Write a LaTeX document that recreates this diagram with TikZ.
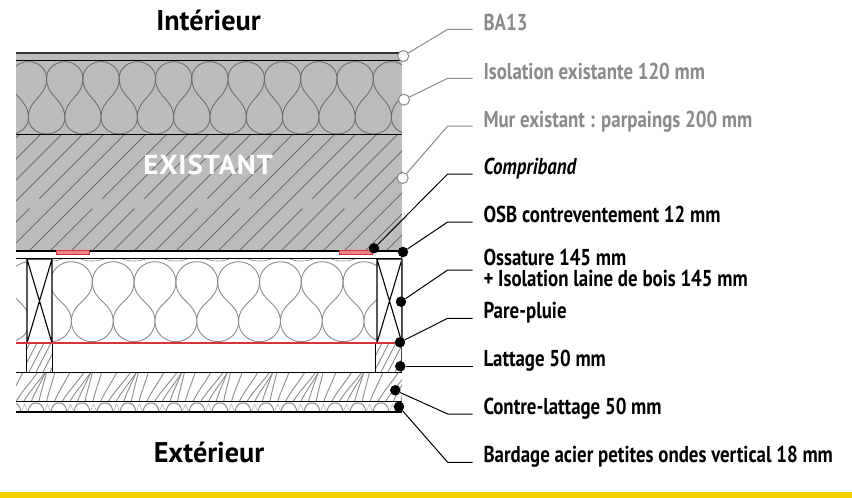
\documentclass[tikz,border=0pt]{standalone}
\usepackage{fontspec}
\setmainfont[FakeStretch=0.82]{PT Sans}
\newfontfamily\titlefont[FakeStretch=0.99]{PT Sans}
\newfontfamily\capsfont[FakeStretch=1.05,LetterSpace=3]{PT Sans}
\usepackage{tikz}
\usetikzlibrary{calc}
\usetikzlibrary{positioning}
\definecolor{wallgrey}{HTML}{BDBCBA}
\definecolor{leadgrey}{HTML}{8A8A88}
\definecolor{wavegrey}{HTML}{6E6E6C}
\definecolor{softgrey}{HTML}{8C8C8C}
\definecolor{tapered}{HTML}{D8323C}
\definecolor{tapefill}{HTML}{E8868A}
\definecolor{bandyellow}{HTML}{F4D000}
\tikzset{
	layerline/.style={black,line width=1.1pt},
	wave/.style={line width=0.9pt},
	woodline/.style={softgrey,line width=0.9pt},
	opendot/.style={circle,draw=leadgrey,fill=white,line width=1pt,inner sep=0pt,minimum size=11pt},
	fulldot/.style={circle,fill=black,inner sep=0pt,minimum size=10.5pt},
	greylead/.style={leadgrey,line width=1pt},
	blacklead/.style={black,line width=1pt},
	greylabel/.style={anchor=base west,inner sep=0pt,text=leadgrey,font=\fontsize{23}{23}\selectfont\bfseries},
	blacklabel/.style={anchor=base west,inner sep=0pt,text=black,font=\fontsize{23}{23}\selectfont\bfseries},
	title/.style={anchor=base,inner sep=0pt,font=\fontsize{28.5}{28.5}\selectfont\titlefont\bfseries}
}
% one row of insulation bulbs: first neck, pitch, count, then the four levels
\newcommand{\bulbrow}[7]{
	\foreach \i in {0,...,#3} {
		\pgfmathsetmacro{\xa}{#1+\i*#2}
		\pgfmathsetmacro{\xb}{\xa+#2}
		\pgfmathsetmacro{\xm}{\xa+#2/2}
		\pgfmathsetmacro{\xn}{\xb+#2/2}
		\pgfmathsetmacro{\yd}{(#6-#5)/2}
		\pgfmathsetmacro{\yh}{(#5-#4)*0.55}
		\pgfmathsetmacro{\xh}{#2*0.275}
		\draw (\xm,#6) .. controls (\xm,#6-\yd) and (\xa,#5+\yd) .. (\xa,#5)
			.. controls (\xa,#5-\yh) and (\xm-\xh,#4) .. (\xm,#4)
			.. controls (\xm+\xh,#4) and (\xb,#5-\yh) .. (\xb,#5)
			.. controls (\xb,#5+\yd) and (\xm,#6-\yd) .. (\xm,#6);
		\draw (\xm,#6) .. controls (\xm,#6+\yh) and (\xb-\xh,#7) .. (\xb,#7)
			.. controls (\xb+\xh,#7) and (\xn,#6+\yh) .. (\xn,#6);
	}
}
\begin{document}
\begin{tikzpicture}[x=1pt,y=-1pt]
	\useasboundingbox (0,0) rectangle (852,498);
	\fill[white] (0,0) rectangle (852,498);
	% yellow band
	\fill[bandyellow] (0,491.7) rectangle (852,498);
	% existing wall
	\fill[wallgrey] (16,53) rectangle (402,251);
	\begin{scope}
		\clip (16,61) rectangle (402,134);
		\begin{scope}[wave,draw=wavegrey]
			\bulbrow{-26}{36.3}{13}{61.7}{78}{118}{134}
		\end{scope}
	\end{scope}
	\begin{scope}
		\clip (16,134) rectangle (402,251);
		\foreach \x in {-97,-55,-34,8,29,71,113,134,176,218,239,281,323,344,386} {
			\draw[wavegrey,line width=0.8pt] (\x,251) -- (\x+117,134);
		}
		\foreach \x in {-76,-13,50,92,155,197,260,302,365} {
			\draw[wavegrey,line width=0.8pt,dash pattern=on 60pt off 14pt on 200pt] (\x,251) -- (\x+117,134);
		}
	\end{scope}
	% new insulation between the studs
	\begin{scope}
		\clip (16,259) rectangle (27,343) (52,259) rectangle (377,343);
		\begin{scope}[wave,draw=softgrey]
			\bulbrow{-33.1}{41.8}{11}{261.7}{281.7}{321.7}{341.7}
			\foreach \x in {50.5,92.3,...,380} {
				\draw[line width=0.6pt] (\x-12,258.7) .. controls (\x-6,261.8) and (\x+6,261.8) .. (\x+12,258.7);
			}
		\end{scope}
	\end{scope}
	% studs
	\draw[layerline] (27,259) rectangle (52,343) (27,259) -- (52,343) (52,259) -- (27,343);
	\draw[layerline] (377,259) rectangle (402,343) (377,259) -- (402,343) (402,259) -- (377,343);
	% battens
	\begin{scope}
		\clip (26.3,343) rectangle (52.3,372) (375.7,343) rectangle (402,372);
		\foreach \x in {8,15,...,57,360,367,...,409} {
			\draw[woodline] (\x,372) -- (\x+15,343);
		}
	\end{scope}
	\draw[layerline] (26.3,343) -- (26.3,372) (52.3,343) -- (52.3,372) (375.7,343) -- (375.7,372);
	% counter-battens
	\begin{scope}
		\clip (16,372) rectangle (402,402);
		\foreach \i in {0,...,52} {
			\pgfmathsetmacro{\xs}{8+7.7*\i}
			\pgfmathsetmacro{\xd}{15+8*sin(\i*61)}
			\draw[woodline] (\xs,402) .. controls (\xs+0.25*\xd,392) and (\xs+0.7*\xd,382) .. (\xs+\xd,372);
		}
	\end{scope}
	% cladding
	\begin{scope}
		\clip (16,402) rectangle (402,412);
		\foreach \x in {13,36,...,404} {
			\draw[woodline,line width=1pt] (\x-8,412) .. controls (\x-6.5,404.5) and (\x-4,403) .. (\x,403)
				.. controls (\x+4,403) and (\x+6.5,404.5) .. (\x+8,412);
			\draw[softgrey!60,line width=0.6pt] (\x+8,412) -- (\x+11.5,404) -- (\x+15,412);
		}
	\end{scope}
	% layer lines
	\draw[black!80,line width=1.6pt] (16,53) -- (402,53);
	\draw[layerline] (16,60.3) -- (402,60.3);
	\draw[layerline] (16,134.3) -- (402,134.3);
	\draw[layerline] (16,251) -- (402,251);
	\draw[layerline] (16,258.7) -- (402,258.7);
	\draw[layerline] (16,372.3) -- (402,372.3);
	\draw[layerline] (16,401.7) -- (402,401.7);
	\draw[layerline] (16,412) -- (402,412);
	\draw[black!75,line width=1.3pt] (401.7,252) -- (401.7,372.3);
	% tape and rain screen
	\draw[tapered,fill=tapefill,line width=1pt] (56.7,250.3) rectangle (89.7,254.3);
	\draw[tapered,fill=tapefill,line width=1pt] (339.3,250.3) rectangle (372.7,254.3);
	\draw[tapered,line width=2pt] (16,343) -- (400,343);
	% titles
	\node[title] (interieur) at (208.5,30) {Intérieur};
	\node[title] (exterieur) at (209,462.3) {Extérieur};
	\node[title,text=white,font=\fontsize{27.5}{27.5}\selectfont\capsfont\bfseries] (existant) at (208.3,174) {EXISTANT};
	% grey callouts
	\foreach \nm/\dx/\dy/\ly/\txt in {
		ba/403.3/56/29.3/BA13,
		isol/404/99.7/78.3/Isolation existante 120 mm,
		mur/402.7/178/126/Mur existant : parpaings 200 mm} {
		\node[opendot] (\nm dot) at (\dx,\dy) {};
		\coordinate (\nm elbow) at (447.7,\ly);
		\coordinate (\nm end) at (472.5,\ly);
		\node[greylabel] (\nm) at (483.3,\ly+1.2) {\txt};
		\draw[greylead] (\nm dot) -- (\nm elbow) -- (\nm end);
	}
	% black callouts
	\foreach \nm/\dx/\dy/\ly/\txt in {
		compri/374/248.3/174/\textit{Compriband},
		osb/403/252/222/OSB contreventement 12 mm,
		pluie/400/342.3/318.3/Pare-pluie,
		lattage/400.3/366.3/366.3/Lattage 50 mm,
		contre/395.3/390.3/414/Contre-lattage 50 mm,
		bardage/399/406.7/462.3/Bardage acier petites ondes vertical 18 mm} {
		\node[fulldot] (\nm dot) at (\dx,\dy) {};
		\coordinate (\nm elbow) at (447.7,\ly);
		\coordinate (\nm end) at (472.5,\ly);
		\node[blacklabel] (\nm) at (483.3,\ly+0.4) {\txt};
		\draw[blacklead] (\nm dot) -- (\nm elbow) -- (\nm end);
	}
	% frame callout, two lines of text
	\node[fulldot] (ossa dot) at (401,301.7) {};
	\coordinate (ossa elbow) at (447.7,270);
	\coordinate (ossa end) at (472.5,270);
	\node[blacklabel] (ossa) at (483.3,265.3) {Ossature 145 mm};
	\node[blacklabel] (ossa two) at (483.3,286.5) {+ Isolation laine de bois 145 mm};
	\draw[blacklead] (ossa dot) -- (ossa elbow) -- (ossa end);
\end{tikzpicture}
\end{document}
